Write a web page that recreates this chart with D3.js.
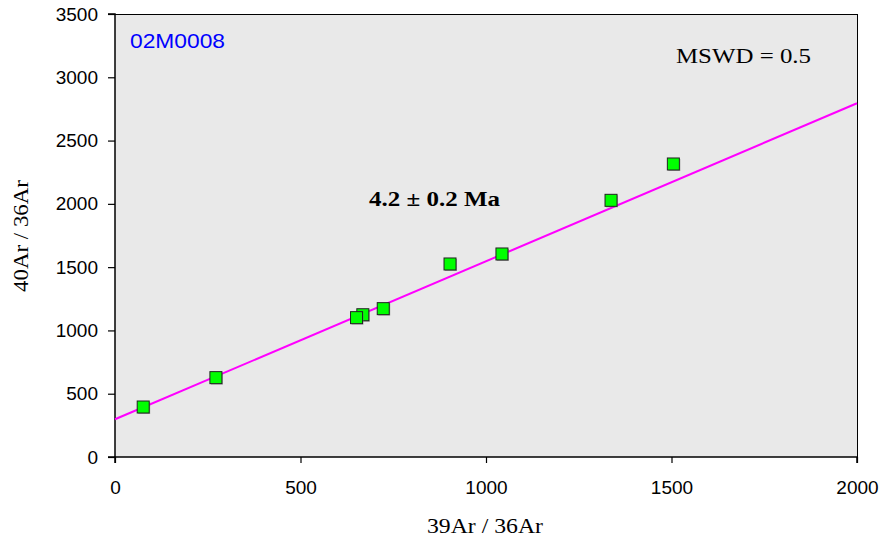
<!DOCTYPE html>
<html><head><meta charset="utf-8">
<script src="https://cdn.jsdelivr.net/npm/d3@7"></script>
<style>body{margin:0;background:#fff}svg{display:block}</style>
</head><body>
<svg id="c" width="882" height="544"></svg>
<script>
const xVals = [76, 272, 668, 651, 723, 903, 1043, 1337, 1505];
const yVals = [395, 627, 1124, 1101, 1172, 1525, 1604, 2028, 2315];
const fitX = [0, 2000];
const fitY = [298, 2795];
const xTicks = [0, 500, 1000, 1500, 2000];
const yTicks = [0, 500, 1000, 1500, 2000, 2500, 3000, 3500];

const svg = d3.select("#c");
const L = 115, R = 857, T = 14, B = 457;
const x = d3.scaleLinear().domain([0, 2000]).range([L, R]);
const y = d3.scaleLinear().domain([0, 3500]).range([B, T]);

svg.append("rect").attr("x", L).attr("y", T).attr("width", R - L).attr("height", B - T)
  .attr("fill", "#e9e9e9");
svg.append("line").attr("x1", L).attr("x2", R).attr("y1", T + 0.5).attr("y2", T + 0.5).attr("stroke", "#000").attr("stroke-width", 1);
svg.append("line").attr("x1", R + 0.5).attr("x2", R + 0.5).attr("y1", T).attr("y2", B).attr("stroke", "#000").attr("stroke-width", 1);

const fs = "'Liberation Sans', Arial, sans-serif";
const serif = "'Liberation Serif', 'Times New Roman', serif";
const gx = svg.append("g").attr("transform", `translate(0,${B})`)
  .call(d3.axisBottom(x).tickValues(xTicks).tickSize(6).tickPadding(18).tickFormat(d3.format("d")));
const gy = svg.append("g").attr("transform", `translate(${L},0)`)
  .call(d3.axisLeft(y).tickValues(yTicks).tickSize(7).tickPadding(10).tickFormat(d3.format("d")));
[gx, gy].forEach(g => {
  g.select(".domain").attr("stroke", "#000").attr("stroke-width", 1.5);
  g.selectAll(".tick line").attr("stroke", "#000").attr("stroke-width", 1.2);
  g.selectAll(".tick text").attr("font-family", fs).attr("font-size", 19).attr("fill", "#000");
});
gy.select(".domain").attr("d", `M-7,${T}H0V${B}H-7`);
gx.select(".domain").attr("d", `M${L},6V0H${R}V6`);

svg.append("line")
  .attr("x1", x(fitX[0])).attr("y1", y(fitY[0]))
  .attr("x2", x(fitX[1])).attr("y2", y(fitY[1]))
  .attr("stroke", "#ff00ff").attr("stroke-width", 2);

const pts = xVals.map((v, i) => [v, yVals[i]]);
const s = 12;
const g = svg.append("g");
pts.forEach(p => {
  g.append("rect").attr("x", x(p[0]) - s / 2 + 1).attr("y", y(p[1]) - s / 2 + 1)
    .attr("width", s).attr("height", s).attr("fill", "#777").attr("opacity", 0.6);
  g.append("rect").attr("x", x(p[0]) - s / 2).attr("y", y(p[1]) - s / 2)
    .attr("width", s).attr("height", s).attr("fill", "#00ff00").attr("stroke", "#222").attr("stroke-width", 1);
});

function txt(xp, yp, str, opts) {
  const t = svg.append("text").attr("x", xp).attr("y", yp).text(str)
    .attr("font-family", opts.family).attr("font-size", opts.size).attr("fill", opts.fill || "#000");
  if (opts.weight) t.attr("font-weight", opts.weight);
  if (opts.len) t.attr("textLength", opts.len).attr("lengthAdjust", "spacingAndGlyphs");
  if (opts.anchor) t.attr("text-anchor", opts.anchor);
  if (opts.transform) t.attr("transform", opts.transform);
  return t;
}
txt(130, 48, "02M0008", {family: fs, size: 21, fill: "#0000ff", len: 95});
txt(676, 63, "MSWD = 0.5", {family: serif, size: 22, len: 135});
txt(369, 206, "4.2 ± 0.2 Ma", {family: serif, size: 21, weight: "bold", len: 131});
txt(427, 533, "39Ar / 36Ar", {family: serif, size: 22, len: 116});
txt(0, 0, "40Ar / 36Ar", {family: serif, size: 22, len: 112, transform: "translate(28,292) rotate(-90)"});
</script>
</body></html>
